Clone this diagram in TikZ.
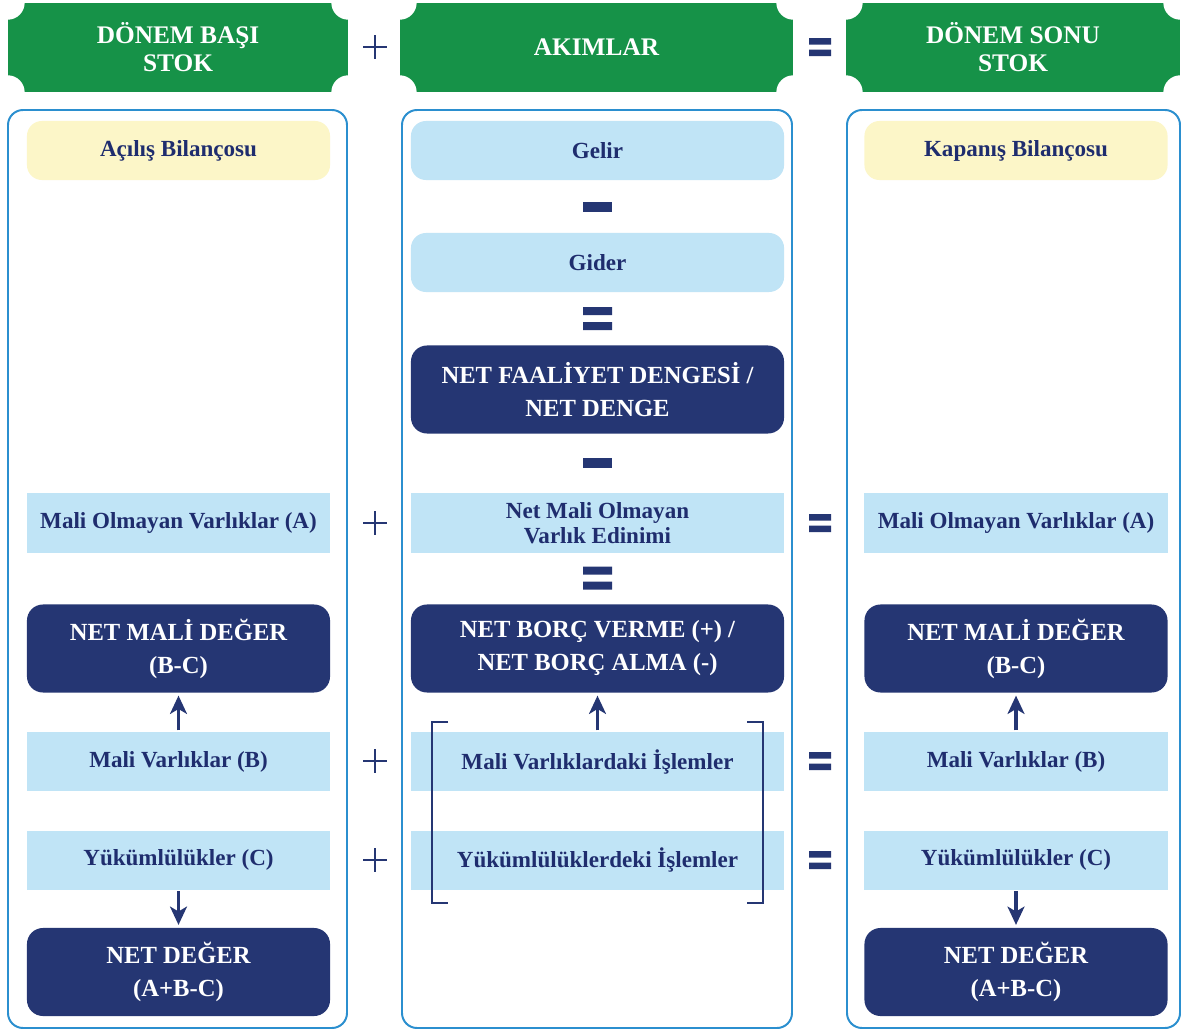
\documentclass[tikz,border=0pt]{standalone}
\usepackage{fontspec}
\setmainfont{Liberation Serif}
\usetikzlibrary{arrows.meta}
\definecolor{hgreen}{RGB}{22, 146, 72}
\definecolor{navy}{RGB}{37, 54, 115}
\definecolor{txtnavy}{RGB}{31, 45, 110}
\definecolor{ltblue}{RGB}{192, 228, 246}
\definecolor{ltyellow}{RGB}{252, 246, 200}
\definecolor{frame}{RGB}{43, 143, 207}

\begin{document}
\begin{tikzpicture}[x=0.025cm, y=-0.025cm]%
        \tikzstyle{header} = [fill=hgreen, text=white, font=\bfseries\fontsize{18}{20}\selectfont, align=center, minimum height=2.225cm, inner sep=0pt]
        \tikzstyle{col} = [draw=frame, line width=1.4pt, rounded corners=0.375cm]
        \tikzstyle{item} = [fill=ltblue, text=txtnavy, font=\bfseries\fontsize{16.4}{18}\selectfont, align=center, minimum height=1.475cm, inner sep=0pt]
        \tikzstyle{soft} = [item, rounded corners=0.375cm]
        \tikzstyle{open} = [soft, fill=ltyellow]
        \tikzstyle{total} = [fill=navy, text=white, font=\bfseries\fontsize{17.5}{23.4}\selectfont, align=center, minimum height=2.2cm, rounded corners=0.4cm, inner sep=0pt]
        \tikzstyle{side} = [minimum width=7.575cm]
        \tikzstyle{mid} = [minimum width=9.325cm]
        \tikzstyle{link} = [-{Stealth[length=13pt, width=12pt, inset=3.5pt]}, navy, line width=2.4pt, shorten <=1pt, shorten >=2pt]
        \tikzstyle{op} = [draw=navy, line width=2pt]
        \tikzstyle{brk} = [draw=navy, line width=1.4pt]

        \useasboundingbox (0,0) rectangle (1184,1032);
        \fill[white] (0,0) rectangle (1184,1032);

        % headers
        \node[header, minimum width=8.5cm] (hl) at (178,47.5) {DÖNEM BAŞI\\STOK};
        \node[header, minimum width=9.825cm] (hm) at (596.5,47.5) {AKIMLAR};
        \node[header, minimum width=8.35cm] (hr) at (1013,47.5) {DÖNEM SONU\\STOK};
        \foreach \h in {hl, hm, hr}{
          \foreach \c in {north west, north east, south west, south east}
            \fill[white] (\h.\c) circle (0.425cm);
        }

        % columns
        \draw[col] (8,110) rectangle (347,1028);
        \draw[col] (402,110) rectangle (792,1028);
        \draw[col] (847,110) rectangle (1180,1028);

        % stock columns
        \foreach \x/\s/\t in {178.5/l/Açılış Bilançosu, 1016/r/Kapanış Bilançosu}{
          \node[open, side] (\s-open) at (\x,150.5) {\t};
          \node[item, side] (\s-A) at (\x,523) {Mali Olmayan Varlıklar (A)};
          \node[total, side] (\s-BC) at (\x,648.5) {NET MALİ DEĞER\\(B-C)};
          \node[item, side] (\s-B) at (\x,761.5) {Mali Varlıklar (B)};
          \node[item, side] (\s-C) at (\x,860) {Yükümlülükler (C)};
          \node[total, side] (\s-net) at (\x,972) {NET DEĞER\\(A+B-C)};
          \draw[link] (\s-B) -- (\s-BC);
          \draw[link] (\s-C) -- (\s-net);
        }

        % flows
        \node[soft, mid] (gelir) at (597.5,150.5) {Gelir};
        \node[soft, mid] (gider) at (597.5,262.5) {Gider};
        \node[total, mid] (denge) at (597.5,389.5) {NET FAALİYET DENGESİ /\\NET DENGE};
        \node[item, mid] (edinim) at (597.5,523) {Net Mali Olmayan\\Varlık Edinimi};
        \node[total, mid] (borc) at (597.5,648.5) {NET BORÇ VERME (+) /\\NET BORÇ ALMA (-)};
        \node[item, mid] (islemB) at (597.5,761.5) {Mali Varlıklardaki İşlemler};
        \node[item, mid] (islemC) at (597.5,860) {Yükümlülüklerdeki İşlemler};
        \draw[link] (islemB) -- (borc);

        \draw[brk] (448,722) -| (432,903) -- (448,903);
        \draw[brk] (747,722) -| (763,903) -- (747,903);

        % operators
        \foreach \y in {207, 463}
          \fill[navy] (583,{\y-5.3}) rectangle (612,{\y+5.3});
        \foreach \y in {318.5, 578}
          \fill[navy] (583,{\y-11.5}) rectangle (612,{\y-3.5}) (583,{\y+3.5}) rectangle (612,{\y+11.5});
        \foreach \y in {47, 523, 761, 860}{
          \draw[op] (375,{\y-12}) -- (375,{\y+12}) (363,\y) -- (387,\y);
          \fill[navy] (809,{\y-9}) rectangle (831,{\y-2.5}) (809,{\y+2.5}) rectangle (831,{\y+9});
        }
      \end{tikzpicture}
\end{document}
